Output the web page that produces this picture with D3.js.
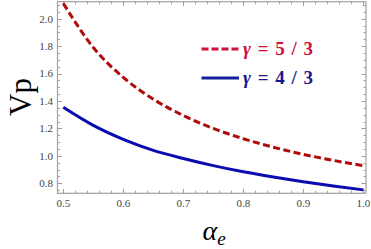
<!DOCTYPE html>
<html>
<head>
<meta charset="utf-8">
<script src="https://cdn.jsdelivr.net/npm/d3@7"></script>
<style>
html,body{margin:0;padding:0;background:#fff;}
svg{display:block;}
</style>
</head>
<body>
<svg id="chart" width="371" height="249"></svg>
<script>
// Data
const alphaE = [0.50, 0.55, 0.60, 0.65, 0.70, 0.75, 0.80, 0.85, 0.90, 0.95, 1.00];
const vpGamma53 = [2.112, 1.790, 1.572, 1.413, 1.294, 1.200, 1.125, 1.063, 1.011, 0.967, 0.929];
const vpGamma43 = [1.354, 1.222, 1.120, 1.040, 0.981, 0.929, 0.884, 0.846, 0.812, 0.781, 0.752];
const seriesGamma = ["5 / 3", "4 / 3"];
const xTicks = [0.5, 0.6, 0.7, 0.8, 0.9, 1.0];
const yTicks = [0.8, 1.0, 1.2, 1.4, 1.6, 1.8, 2.0];

const svg = d3.select("#chart");
const fLeft = 57.5, fRight = 366, fTop = 1.7, fBottom = 193.3;

const x = d3.scaleLinear().domain([0.5, 1.0]).range([63.3, 363.3]);
const y = d3.scaleLinear().domain([0.8, 2.0]).range([183.3, 18.7]);

const serif = "'Liberation Serif','Times New Roman',serif";
const frameColor = "#a0a0a0";

// minor / major ticks
const xMinor = d3.range(0.5, 1.0001, 0.02).map(v => +v.toFixed(2));
const yMinor = d3.range(0.75, 2.1001, 0.05).map(v => +v.toFixed(2));
const g = svg.append("g");
function isMajorX(v){ return xTicks.some(t => Math.abs(t - v) < 1e-6); }
function isMajorY(v){ return yTicks.some(t => Math.abs(t - v) < 1e-6); }

xMinor.forEach(v => {
  const L = isMajorX(v) ? 4.5 : 2.5;
  const px = Math.round(x(v)) + 0.5;
  g.append("line").attr("x1", px).attr("x2", px).attr("y1", fBottom).attr("y2", fBottom - L)
    .attr("stroke", frameColor).attr("stroke-width", 1);
  g.append("line").attr("x1", px).attr("x2", px).attr("y1", fTop).attr("y2", fTop + L)
    .attr("stroke", frameColor).attr("stroke-width", 1);
});
yMinor.forEach(v => {
  const L = isMajorY(v) ? 4.5 : 2.5;
  const py = Math.round(y(v)) + 0.5;
  g.append("line").attr("x1", fLeft).attr("x2", fLeft + L).attr("y1", py).attr("y2", py)
    .attr("stroke", frameColor).attr("stroke-width", 1);
  g.append("line").attr("x1", fRight).attr("x2", fRight - L).attr("y1", py).attr("y2", py)
    .attr("stroke", frameColor).attr("stroke-width", 1);
});

// frame
svg.append("rect").attr("x", fLeft).attr("y", fTop).attr("width", fRight - fLeft).attr("height", fBottom - fTop)
  .attr("fill", "none").attr("stroke", frameColor).attr("stroke-width", 1.2);

// tick labels
svg.append("g").selectAll("text").data(xTicks).join("text")
  .attr("x", d => x(d)).attr("y", 207)
  .attr("text-anchor", "middle").attr("font-family", serif).attr("font-size", 11).attr("fill", "#444")
  .text(d => d.toFixed(1));
svg.append("g").selectAll("text").data(yTicks).join("text")
  .attr("x", 53).attr("y", d => y(d) + 3.8)
  .attr("text-anchor", "end").attr("font-family", serif).attr("font-size", 11).attr("fill", "#444")
  .text(d => d.toFixed(1));

// curves
const line = d3.line().x((d, i) => x(alphaE[i])).y(d => y(d)).curve(d3.curveMonotoneX);
svg.append("path").datum(vpGamma53).attr("d", line).attr("fill", "none")
  .attr("stroke", "#b00a0a").attr("stroke-width", 3).attr("stroke-dasharray", "7,3.5");
svg.append("path").datum(vpGamma43).attr("d", line).attr("fill", "none")
  .attr("stroke", "#0a0ab0").attr("stroke-width", 3);

// legend
const legColors = ["#d0103c", "#14209e"];
const legText = ["#d0103c", "#1a1a8c"];
const legY = [49, 78];
seriesGamma.forEach((val, i) => {
  const l = svg.append("line").attr("x1", 201.5).attr("x2", 239).attr("y1", legY[i]).attr("y2", legY[i])
    .attr("stroke", legColors[i]).attr("stroke-width", 3.2);
  if (i === 0) l.attr("stroke-dasharray", "7,3");
  const t = svg.append("text").attr("x", 243).attr("y", legY[i] + 6)
    .attr("font-family", serif).attr("font-weight", "bold").attr("font-size", 19)
    .attr("fill", legText[i]).attr("textLength", 70).attr("lengthAdjust", "spacing");
  t.append("tspan").attr("font-style", "italic").text("\u03B3");
  t.append("tspan").text(" = " + val);
});

// axis labels
svg.append("text").attr("transform", "translate(31,97) rotate(-90)")
  .attr("text-anchor", "middle").attr("font-family", serif).attr("font-size", 31).attr("fill", "#000")
  .text("Vp");
const xl = svg.append("text").attr("x", 214).attr("y", 240).attr("text-anchor", "middle")
  .attr("font-family", serif).attr("fill", "#000");
xl.append("tspan").attr("font-style", "italic").attr("font-size", 28).text("\u03B1");
xl.append("tspan").attr("font-style", "italic").attr("font-size", 19).attr("dy", 5).text("e");
</script>
</body>
</html>
